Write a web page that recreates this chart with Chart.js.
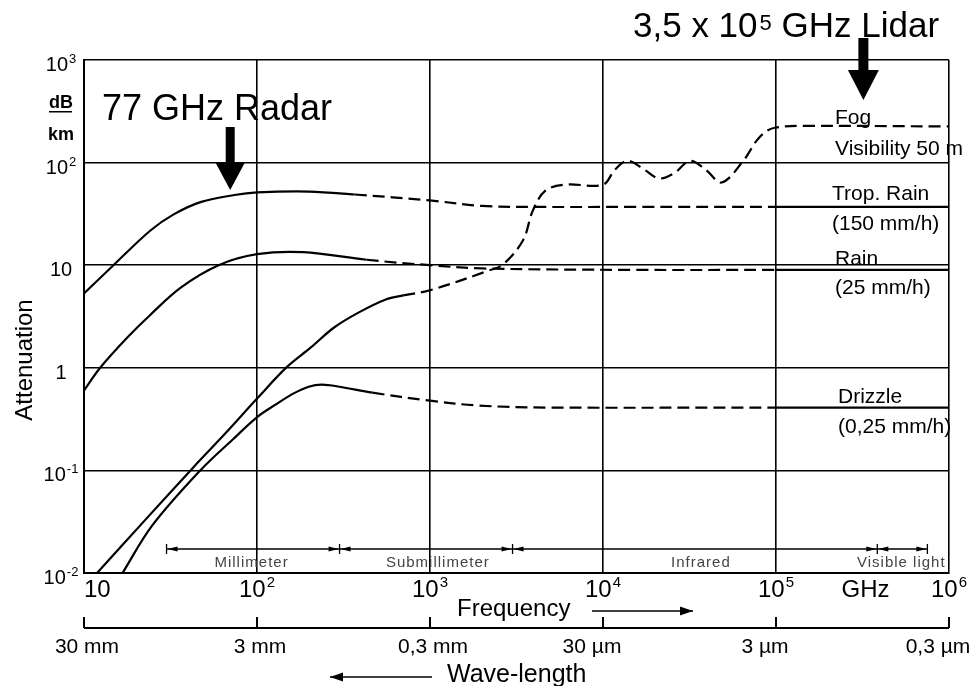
<!DOCTYPE html>
<html>
<head>
<meta charset="utf-8">
<script src="https://cdn.jsdelivr.net/npm/chart.js@4.4.0/dist/chart.umd.min.js"></script>
<style>
  html, body { margin: 0; padding: 0; background: #fff; }
  #chart { display: block; }
</style>
</head>
<body>
<canvas id="chart" width="972" height="686"></canvas>
<script>
const FONT = '"Liberation Sans", Arial, Helvetica, sans-serif';

// Axis ticks
const xTickValues = [10, 1e2, 1e3, 1e4, 1e5, 1e6];
const xTickLabels = ['10', '10^2', '10^3', '10^4', '10^5', '10^6'];
const yTickValues = [0.01, 0.1, 1, 10, 100, 1000];
const yTickLabels = ['10^-2', '10^-1', '1', '10', '10^2', '10^3'];
const waveLabels = ['30 mm', '3 mm', '0,3 mm', '30 µm', '3 µm', '0,3 µm'];

// Spectrum bands (GHz)
const bandEdges = [30, 300, 3000, 3.85e5, 7.5e5];
const bandNames = ['Millimeter', 'Submillimeter', 'Infrared', 'Visible light'];
const bandLabelAt = [93, 1110, 36800, 5.3e5];

// Curves: frequency in GHz, attenuation in dB/km
const tropRainFreq = [10, 14.8, 24.3, 33, 47.6, 74, 100, 200, 367, 1000, 2000, 4000, 15000, 1e5, 1e6];
const tropRainDb = [5.3, 10, 21.9, 31.3, 41.4, 48.3, 51.2, 52.2, 48.9, 42.8, 37.8, 37, 37, 37, 37];

const rainFreq = [10, 12.4, 17.8, 24.3, 36.4, 60, 100, 185, 430, 1000, 2000, 15000, 1e5, 1e6];
const rainDb = [0.6, 1, 1.97, 3.31, 6.08, 10, 12.8, 13.4, 11.3, 10, 9.3, 9.0, 9.0, 9.0];

const drizzleFreq = [16.7, 24.7, 47, 72.4, 101, 128, 162, 199, 237, 299, 464, 1000, 1930, 4660, 1e5, 1e6];
const drizzleDb = [0.01, 0.0288, 0.1, 0.2, 0.334, 0.437, 0.56, 0.654, 0.684, 0.654, 0.572, 0.478, 0.428, 0.41, 0.41, 0.41];

const fogFreq = [11.9, 22.4, 42.3, 65.9, 101, 149, 204, 279, 388, 555, 700, 1000, 2200, 2650, 3450, 3930,
  4660, 6070, 10000, 11700, 13900, 17400, 21200, 26100, 31800, 39300, 48500, 64700, 76900, 87700,
  1e5, 1.42e5, 1e6];
const fogDb = [0.01, 0.0324, 0.1045, 0.231, 0.51, 1.02, 1.57, 2.47, 3.47, 4.64, 5.08, 5.7, 8.9, 10.2, 17.5, 34,
  53.5, 61, 61, 85, 104, 85, 70, 80, 104, 85, 64, 104, 162, 202,
  220, 228, 225];

const curveLabels = [
  ['Fog', 'Visibility 50 m'],
  ['Trop. Rain', '(150 mm/h)'],
  ['Rain', '(25 mm/h)'],
  ['Drizzle', '(0,25 mm/h)'],
];

const zip = (xs, ys) => xs.map((x, i) => ({ x: x, y: ys[i] }));

// dashed between two frequencies, solid elsewhere
const dashed = (from, to) => ctx =>
  (ctx.p0.parsed.x >= from && ctx.p1.parsed.x <= to) ? [12, 6] : undefined;

const curve = (xs, ys, from, to) => ({
  data: zip(xs, ys),
  borderColor: '#000',
  borderWidth: 2.2,
  pointRadius: 0,
  fill: false,
  tension: 0.35,
  segment: { borderDash: dashed(from, to) },
});

function drawSup(ctx, text, x, y, size, supSize, rise, align) {
  const [base, exp] = text.split('^');
  ctx.font = `${size}px ${FONT}`;
  const wb = ctx.measureText(base).width;
  ctx.font = `${supSize}px ${FONT}`;
  const we = exp ? ctx.measureText(exp).width + 1 : 0;
  const w = wb + we;
  const x0 = align === 'left' ? x : align === 'right' ? x - w : x - w / 2;
  ctx.textAlign = 'left';
  ctx.font = `${size}px ${FONT}`;
  ctx.fillText(base, x0, y);
  if (exp) {
    ctx.font = `${supSize}px ${FONT}`;
    ctx.fillText(exp, x0 + wb + 1, y - rise);
  }
}

function tri(ctx, pts) {
  ctx.beginPath();
  ctx.moveTo(pts[0][0], pts[0][1]);
  ctx.lineTo(pts[1][0], pts[1][1]);
  ctx.lineTo(pts[2][0], pts[2][1]);
  ctx.closePath();
  ctx.fill();
}

function downArrow(ctx, x, top, headTop, tip, shaft, head) {
  ctx.fillRect(x - shaft / 2, top, shaft, headTop - top + 1);
  tri(ctx, [[x - head / 2, headTop], [x + head / 2, headTop], [x, tip]]);
}

function hArrow(ctx, x0, x1, y, len, half) {
  ctx.beginPath();
  ctx.moveTo(x0, y);
  ctx.lineTo(x1, y);
  ctx.stroke();
  const d = x1 > x0 ? 1 : -1;
  tri(ctx, [[x1, y], [x1 - d * len, y - half], [x1 - d * len, y + half]]);
}

const decorations = {
  id: 'decorations',
  afterDraw(chart) {
    const { ctx, chartArea: a } = chart;
    const xs = chart.scales.x;
    const ys = chart.scales.y;
    ctx.save();
    ctx.fillStyle = '#000';
    ctx.strokeStyle = '#000';
    ctx.textBaseline = 'alphabetic';

    // y tick labels
    yTickValues.forEach((v, i) => {
      drawSup(ctx, yTickLabels[i], 61, ys.getPixelForValue(v) + 11, 20, 13, 8, 'center');
    });
    ctx.font = `bold 18px ${FONT}`;
    ctx.textAlign = 'center';
    ctx.fillText('dB', 61, 108);
    ctx.fillText('km', 61, 140);
    ctx.fillRect(49, 111, 23, 1.5);

    ctx.save();
    ctx.translate(32, 360);
    ctx.rotate(-Math.PI / 2);
    ctx.font = `24px ${FONT}`;
    ctx.textAlign = 'center';
    ctx.fillText('Attenuation', 0, 0);
    ctx.restore();

    // x tick labels
    xTickValues.forEach((v, i) => {
      const px = xs.getPixelForValue(v);
      drawSup(ctx, xTickLabels[i], px, 597, 24, 15, 10, i === 0 ? 'left' : 'center');
    });
    ctx.font = `24px ${FONT}`;
    ctx.textAlign = 'center';
    ctx.fillText('GHz', xs.getPixelForValue(Math.sqrt(1e5 * 1e6)) + 3, 597);

    ctx.textAlign = 'left';
    ctx.fillText('Frequency', 457, 616);
    ctx.lineWidth = 1.5;
    hArrow(ctx, 592, 693, 611, 13, 4.5);

    // wavelength axis
    ctx.lineWidth = 2;
    ctx.beginPath();
    ctx.moveTo(a.left, 628);
    ctx.lineTo(a.right, 628);
    xTickValues.forEach(v => {
      const px = xs.getPixelForValue(v);
      ctx.moveTo(px, 617);
      ctx.lineTo(px, 628);
    });
    ctx.stroke();
    ctx.font = `21px ${FONT}`;
    ctx.textAlign = 'center';
    xTickValues.forEach((v, i) => {
      const shift = waveLabels[i].includes('µ') ? -11 : 3;
      ctx.fillText(waveLabels[i], xs.getPixelForValue(v) + shift, 653);
    });
    ctx.font = `25px ${FONT}`;
    ctx.textAlign = 'left';
    ctx.fillText('Wave-length', 447, 682);
    ctx.lineWidth = 1.5;
    hArrow(ctx, 432, 330, 677, 13, 4.5);

    // spectrum bands
    const by = 549;
    const edges = bandEdges.map(v => xs.getPixelForValue(v));
    ctx.lineWidth = 1.3;
    ctx.beginPath();
    ctx.moveTo(edges[0], by);
    ctx.lineTo(edges[edges.length - 1], by);
    edges.forEach(px => {
      ctx.moveTo(px, by - 5);
      ctx.lineTo(px, by + 5);
    });
    ctx.stroke();
    edges.forEach((px, i) => {
      if (i > 0) tri(ctx, [[px - 1, by], [px - 11, by - 2.5], [px - 11, by + 2.5]]);
      if (i < edges.length - 1) tri(ctx, [[px + 1, by], [px + 11, by - 2.5], [px + 11, by + 2.5]]);
    });
    ctx.fillStyle = '#444';
    ctx.font = `15px ${FONT}`;
    ctx.textAlign = 'center';
    if ('letterSpacing' in ctx) ctx.letterSpacing = '1px';
    bandNames.forEach((name, i) => {
      ctx.fillText(name, xs.getPixelForValue(bandLabelAt[i]), 567);
    });
    if ('letterSpacing' in ctx) ctx.letterSpacing = '0px';
    ctx.fillStyle = '#000';

    // curve labels
    ctx.font = `21px ${FONT}`;
    ctx.textAlign = 'left';
    const labelPos = [[835, 124, 155], [832, 200, 230], [835, 265, 294], [838, 403, 433]];
    curveLabels.forEach((lines, i) => {
      const [lx, y1, y2] = labelPos[i];
      ctx.fillText(lines[0], lx, y1);
      ctx.fillText(lines[1], lx, y2);
    });

    // radar / lidar callouts
    ctx.font = `36px ${FONT}`;
    ctx.fillText('77 GHz Radar', 102, 120);
    downArrow(ctx, xs.getPixelForValue(70), 127, 162, 190, 9, 30);

    ctx.font = `35px ${FONT}`;
    ctx.fillText('3,5 x 10', 633, 37);
    const w = ctx.measureText('3,5 x 10').width;
    ctx.font = `22px ${FONT}`;
    ctx.fillText('5', 633 + w + 2, 30);
    ctx.font = `35px ${FONT}`;
    ctx.fillText('GHz Lidar', 633 + w + 24, 37);
    downArrow(ctx, xs.getPixelForValue(3.2e5), 38, 70, 100, 10, 31);

    ctx.restore();
  },
};

const scaleBase = (min, max, ticks) => ({
  type: 'logarithmic',
  min: min,
  max: max,
  afterBuildTicks: scale => {
    scale.ticks = ticks.map(v => ({ value: v }));
  },
  ticks: { display: false },
  grid: { color: '#000', lineWidth: 1.6, drawTicks: false },
  border: { color: '#000', width: 2 },
});

new Chart(document.getElementById('chart'), {
  type: 'line',
  data: {
    datasets: [
      curve(tropRainFreq, tropRainDb, 367, 1e5),
      curve(rainFreq, rainDb, 430, 1e5),
      curve(drizzleFreq, drizzleDb, 464, 1e5),
      curve(fogFreq, fogDb, 700, Infinity),
    ],
  },
  options: {
    responsive: false,
    animation: false,
    events: [],
    layout: { padding: { left: 84, top: 60, right: 23, bottom: 113 } },
    plugins: {
      legend: { display: false },
      tooltip: { enabled: false },
    },
    scales: {
      x: { ...scaleBase(10, 1e6, xTickValues), position: 'bottom' },
      y: { ...scaleBase(0.01, 1000, yTickValues), position: 'left' },
    },
  },
  plugins: [decorations],
});
</script>
</body>
</html>
